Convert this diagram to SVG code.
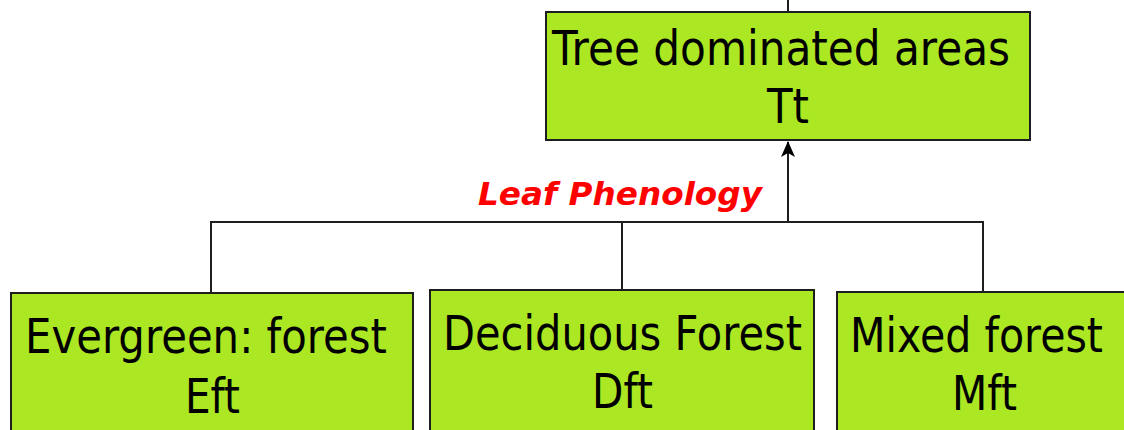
<svg xmlns="http://www.w3.org/2000/svg" width="1124" height="430" viewBox="0 0 1124 430">
  <style>
    .box { fill: #ace723; stroke: #1e1e1e; stroke-width: 2; }
    .lbl { font-family: "DejaVu Sans", Verdana, sans-serif; font-size: 48px; fill: #000; }
    .edge { fill: none; stroke: #1e1e1e; stroke-width: 2; }
    .tag { font-family: "DejaVu Sans", Verdana, sans-serif; font-size: 32px; font-weight: bold; font-style: italic; fill: #ff0000; }
  </style>
  <defs>
    <marker id="arrow" viewBox="0 0 16 16" refX="15" refY="8" markerWidth="16" markerHeight="16" markerUnits="userSpaceOnUse" orient="auto">
      <path d="M0,1 L16,8 L0,15 L4,8 Z" fill="#000"/>
    </marker>
  </defs>

  <rect width="1124" height="430" fill="#ffffff"/>

  <g id="connectors">
    <line class="edge" x1="788" y1="0" x2="788" y2="12"/>
    <line class="edge" x1="788" y1="222" x2="788" y2="142" marker-end="url(#arrow)"/>
    <polyline class="edge" points="211,293 211,222 983,222 983,292"/>
    <line class="edge" x1="622" y1="222" x2="622" y2="290"/>
    <text class="tag" x="478" y="205" textLength="284" lengthAdjust="spacingAndGlyphs">Leaf  Phenology</text>
  </g>

  <g id="node-tt">
    <rect class="box" x="546" y="12" width="484" height="128"/>
    <text class="lbl" x="552" y="65" textLength="458" lengthAdjust="spacingAndGlyphs">Tree dominated areas</text>
    <text class="lbl" x="767" y="123" textLength="42" lengthAdjust="spacingAndGlyphs">Tt</text>
  </g>

  <g id="node-eft">
    <rect class="box" x="11" y="293" width="402" height="150"/>
    <text class="lbl" x="25" y="353" textLength="362" lengthAdjust="spacingAndGlyphs">Evergreen: forest</text>
    <text class="lbl" x="185" y="413" textLength="55" lengthAdjust="spacingAndGlyphs">Eft</text>
  </g>

  <g id="node-dft">
    <rect class="box" x="430" y="290" width="384" height="150"/>
    <text class="lbl" x="443" y="350" textLength="359" lengthAdjust="spacingAndGlyphs">Deciduous Forest</text>
    <text class="lbl" x="592" y="408" textLength="61" lengthAdjust="spacingAndGlyphs">Dft</text>
  </g>

  <g id="node-mft">
    <rect class="box" x="837" y="292" width="290" height="150"/>
    <text class="lbl" x="850" y="352" textLength="253" lengthAdjust="spacingAndGlyphs">Mixed forest</text>
    <text class="lbl" x="952" y="410" textLength="65" lengthAdjust="spacingAndGlyphs">Mft</text>
  </g>
</svg>
